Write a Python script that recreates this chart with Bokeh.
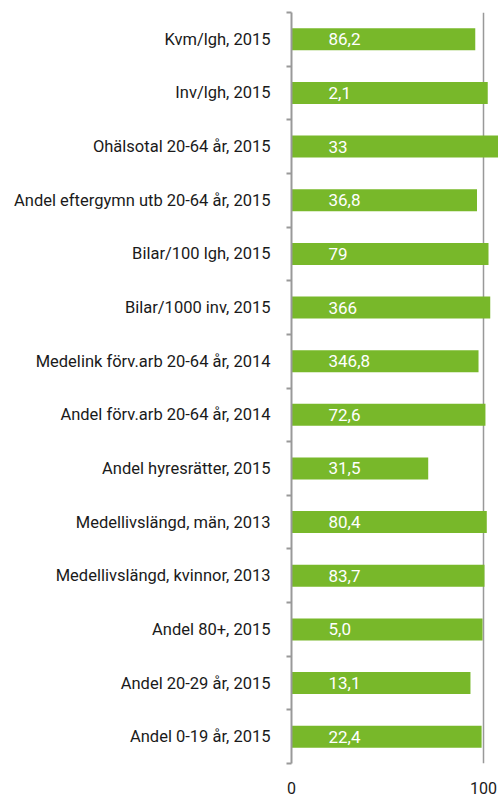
from bokeh.plotting import figure
from bokeh.models import ColumnDataSource, Range1d, FixedTicker
from bokeh.core.properties import value
from bokeh.embed import file_html
from bokeh.resources import INLINE

# top to bottom
categories = [
    "Kvm/lgh, 2015",
    "Inv/lgh, 2015",
    "Ohälsotal 20-64 år, 2015",
    "Andel eftergymn utb 20-64 år, 2015",
    "Bilar/100 lgh, 2015",
    "Bilar/1000 inv, 2015",
    "Medelink förv.arb 20-64 år, 2014",
    "Andel förv.arb 20-64 år, 2014",
    "Andel hyresrätter, 2015",
    "Medellivslängd, män, 2013",
    "Medellivslängd, kvinnor, 2013",
    "Andel 80+, 2015",
    "Andel 20-29 år, 2015",
    "Andel 0-19 år, 2015",
]
index_values = [95.7, 102.2, 112.0, 96.6, 102.6, 103.5, 97.4, 101.0, 71.2, 101.7, 100.5, 99.5, 93.2, 99.0]
value_labels = ["86,2", "2,1", "33", "36,8", "79", "366", "346,8", "72,6", "31,5", "80,4", "83,7", "5,0", "13,1", "22,4"]
x_ticks = [0, 100]

n = len(categories)
ypos = [n - 1 - i for i in range(n)]

src = ColumnDataSource(dict(y=ypos, v=index_values, lab=value_labels, zero=[0] * n))

p = figure(width=498, height=796, output_backend="svg", toolbar_location=None,
           x_range=Range1d(0, 107.8), y_range=Range1d(-0.5, n - 0.5),
           min_border_left=291, min_border_right=0, min_border_top=12, min_border_bottom=29)
p.outline_line_color = None
p.background_fill_color = "white"

p.hbar(y="y", left=0, right="v", height=0.41, source=src, color="#78B82A", line_color=None)
p.text(x="zero", y="y", text="lab", source=src, x_offset=37, text_color="white",
       text_font=value("Roboto"), text_font_size="17px", text_baseline="middle", text_align="left")

# y axis: labels at centers, ticks at boundaries
p.yaxis.ticker = FixedTicker(ticks=ypos, minor_ticks=[k - 0.5 for k in range(n + 1)])
p.yaxis.major_label_overrides = {y: c for y, c in zip(ypos, categories)}
p.yaxis.major_tick_line_color = None
p.yaxis.minor_tick_line_color = "#999999"
p.yaxis.minor_tick_line_width = 2
p.yaxis.minor_tick_out = 5
p.yaxis.minor_tick_in = 0
p.yaxis.axis_line_color = "#999999"
p.yaxis.axis_line_width = 2
p.yaxis.major_label_standoff = 15
p.yaxis.major_label_text_font = "Roboto"
p.yaxis.major_label_text_font_size = "16.5px"
p.yaxis.major_label_text_color = "#1a1a1a"

p.xaxis.ticker = FixedTicker(ticks=x_ticks)
p.xaxis.axis_line_color = None
p.xaxis.major_tick_line_color = None
p.xaxis.minor_tick_line_color = None
p.xaxis.major_label_standoff = 12
p.xaxis.major_label_text_font = "Roboto"
p.xaxis.major_label_text_font_size = "16px"
p.xaxis.major_label_text_color = "#1a1a1a"

p.ygrid.grid_line_color = None
p.xgrid.ticker = FixedTicker(ticks=[100])
p.xgrid.grid_line_color = "#999999"
p.xgrid.grid_line_width = 1.5

open("out.html", "w").write(file_html(p, INLINE))
